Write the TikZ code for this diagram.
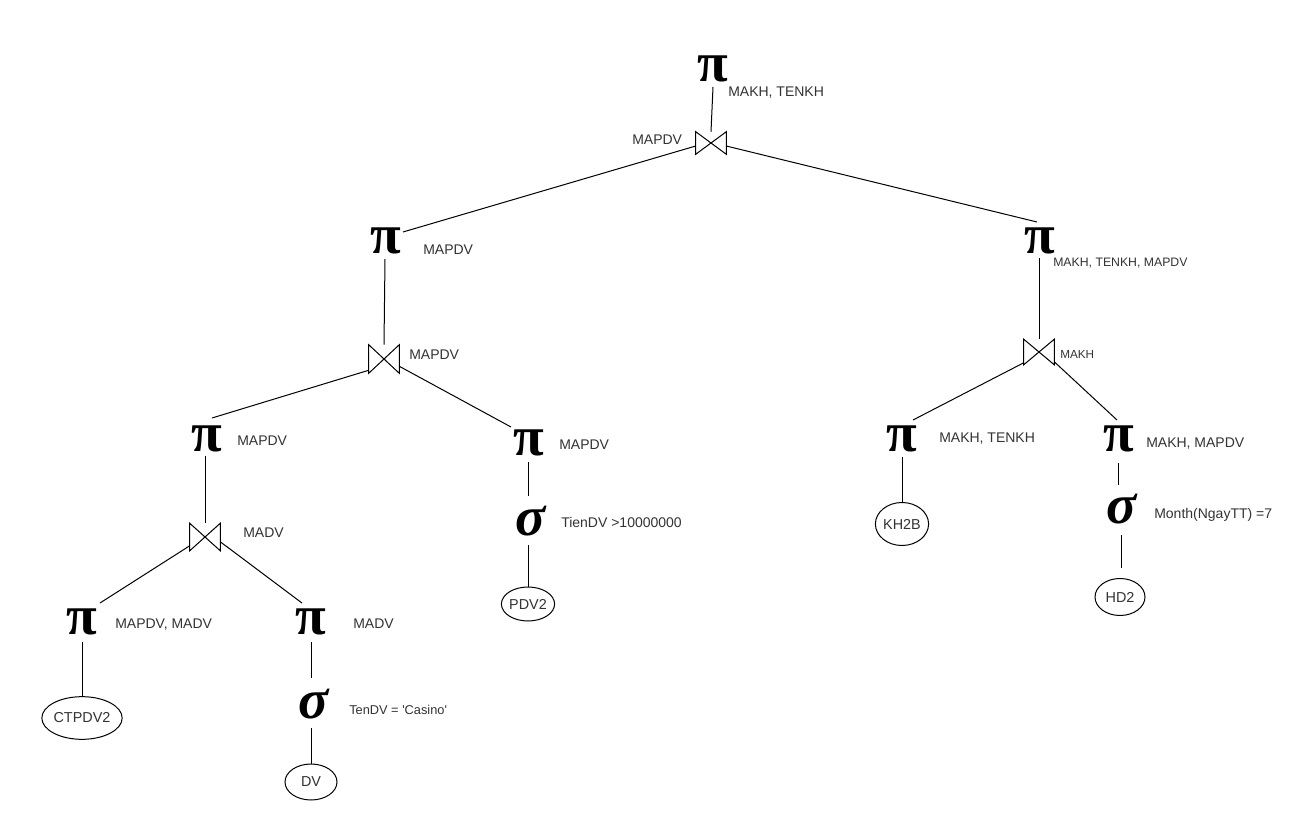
\documentclass[tikz,border=0pt]{standalone}
\usepackage{fontspec}
\setmainfont{Liberation Sans}
\newfontfamily\greekfont{Liberation Serif}
\usetikzlibrary{shapes.geometric}
\definecolor{labelgray}{RGB}{51,51,51}

\tikzset{
  edge/.style={line width=0.75pt, black},
  pinode/.style={inner sep=0pt, font=\greekfont\bfseries\fontsize{42pt}{42pt}\selectfont,
    text height=21.75pt, text depth=0pt},
  signode/.style={inner sep=0pt, font=\greekfont\bfseries\itshape\fontsize{42pt}{42pt}\selectfont,
    text height=19.5pt, text depth=0pt},
  lbl/.style={anchor=base west, inner sep=0pt, text=labelgray,
    font=\fontsize{10.5pt}{12pt}\selectfont},
  lblsm/.style={lbl, font=\fontsize{9.2pt}{11pt}\selectfont},
  rel/.style={ellipse, draw, line width=0.75pt, inner sep=0pt, text=labelgray,
    font=\fontsize{10.8pt}{12pt}\selectfont},
  joinbox/.style={rectangle, inner sep=0pt, minimum width=22.5pt},
}

\begin{document}
\begin{tikzpicture}[x=0.75pt,y=-0.75pt]
  \useasboundingbox[fill=white] (0,0) rectangle (1289,813);

  % projections
  \node[pinode] (p0) at (713,67)  {π};
  \node[pinode] (p1) at (386,239) {π};
  \node[pinode] (p2) at (1040,239) {π};
  \node[pinode] (p3) at (207,437) {π};
  \node[pinode] (p4) at (529,441) {π};
  \node[pinode] (p5) at (902,437) {π};
  \node[pinode] (p6) at (1119,437) {π};
  \node[pinode] (p7) at (82,620)  {π};
  \node[pinode] (p8) at (311,620) {π};

  % selections
  \node[signode] (s1) at (314,705) {σ};
  \node[signode] (s2) at (531,522) {σ};
  \node[signode] (s3) at (1122,510) {σ};

  % joins
  \node[joinbox, minimum height=16.5pt] (j0) at (711,143) {};
  \node[joinbox, minimum height=21pt]   (j1) at (384,359) {};
  \node[joinbox, minimum height=20.25pt] (j3) at (205,537) {};
  \node[joinbox, minimum height=18.75pt] (j4) at (1039,352) {};
  \foreach \j in {j0,j1,j3,j4}
    \draw[edge, line join=miter] (\j.north west) -- (\j.south east) -- (\j.north east) -- (\j.south west) -- cycle;

  % relations
  \node[rel, minimum width=46.5pt, minimum height=32pt] (ctpdv) at (82,718) {CTPDV2};
  \node[rel, minimum width=39pt, minimum height=27pt] (dv) at (311,782) {DV};
  \node[rel, minimum width=31.5pt, minimum height=25.5pt] (pdv) at (528,604) {PDV2};
  \node[rel, minimum width=39.75pt, minimum height=32.25pt] (kh) at (902,524) {KH2B};
  \node[rel, minimum width=37.5pt, minimum height=27.75pt] (hd) at (1120,597) {HD2};

  % labels
  \node[lbl] (l0) at (728,97) {MAKH, TENKH};
  \node[lbl] (l1) at (632,145) {MAPDV};
  \node[lbl] (l2) at (423,254) {MAPDV};
  \node[lbl] (l3) at (409,359) {MAPDV};
  \node[lblsm] (l4) at (1053,267) {MAKH, TENKH, MAPDV};
  \node[lbl, font=\fontsize{8.8pt}{10pt}\selectfont] (l5) at (1060,358) {MAKH};
  \node[lbl] (l6) at (237,445) {MAPDV};
  \node[lbl] (l7) at (559,449) {MAPDV};
  \node[lbl] (l8) at (561,527) {TienDV >10000000};
  \node[lbl] (l9) at (243,537) {MADV};
  \node[lbl] (l10) at (115,628) {MAPDV, MADV};
  \node[lbl] (l11) at (353,628) {MADV};
  \node[lbl, font=\fontsize{9.6pt}{11pt}\selectfont] (l12) at (349,714) {TenDV = \textquotesingle Casino\textquotesingle};
  \node[lbl] (l13) at (939,442) {MAKH, TENKH};
  \node[lbl] (l14) at (1146,447) {MAKH, MAPDV};
  \node[lbl] (l15) at (1154,518) {Month(NgayTT) =7};

  % connectors
  \draw[edge] ([shift={(0,20)}]p0.center) -- (j0.north);
  \draw[edge] ([shift={(0,3)}]j0.west) -- ([shift={(17,-7)}]p1.center);
  \draw[edge] ([shift={(0,3)}]j0.east) -- ([shift={(-3,-17)}]p2.center);
  \draw[edge] ([shift={(-1,20)}]p1.center) -- (j1.north);
  \draw[edge] ([shift={(0,-3)}]j1.south west) -- ([shift={(5,-19)}]p3.center);
  \draw[edge] ([shift={(0,-7)}]j1.south east) -- ([shift={(-18,-14)}]p4.center);
  \draw[edge] ([shift={(-2,19)}]p3.center) -- (j3.north);
  \draw[edge] ([shift={(0,-5)}]j3.south west) -- ([shift={(18,-17)}]p7.center);
  \draw[edge] ([shift={(0,-9)}]j3.south east) -- ([shift={(-9,-17)}]p8.center);
  \draw[edge] ([shift={(0,22)}]p8.center) -- ([shift={(-3,-27)}]s1.center);
  \draw[edge] ([shift={(-3,23)}]s1.center) -- (dv.north);
  \draw[edge] ([shift={(0,22)}]p7.center) -- (ctpdv.north);
  \draw[edge] ([shift={(-1,21)}]p4.center) -- ([shift={(-3,-26)}]s2.center);
  \draw[edge] ([shift={(-3,23)}]s2.center) -- (pdv.north);
  \draw[edge] ([shift={(-1,19)}]p2.center) -- (j4.north);
  \draw[edge] ([shift={(0,-2)}]j4.south west) -- ([shift={(11,-17)}]p5.center);
  \draw[edge] ([shift={(0,-3)}]j4.south east) -- ([shift={(-2,-17)}]p6.center);
  \draw[edge] ([shift={(0,20)}]p5.center) -- (kh.north);
  \draw[edge] ([shift={(-1,26)}]p6.center) -- ([shift={(-4,-25)}]s3.center);
  \draw[edge] ([shift={(-1,25)}]s3.center) -- ([shift={(1,-10)}]hd.north);
\end{tikzpicture}
\end{document}
